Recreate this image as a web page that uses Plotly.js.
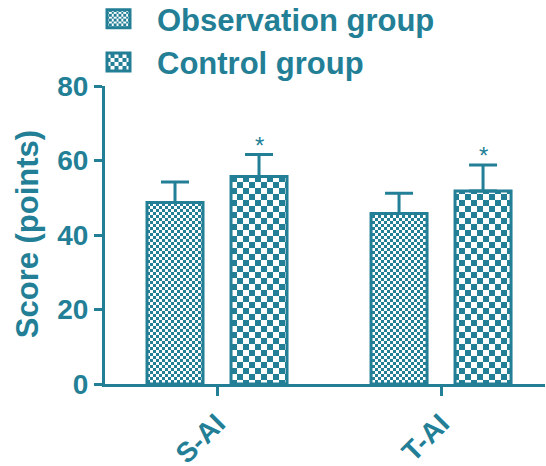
<!DOCTYPE html>
<html>
<head>
<meta charset="utf-8">
<script src="https://cdn.plot.ly/plotly-3.0.1.min.js"></script>
<style>html,body{margin:0;padding:0;background:#fff;}#chart{width:546px;height:466px;}</style>
</head>
<body>
<div id="chart"></div>
<script>
var categories = ['S-AI', 'T-AI'];
var obsMeans = [48.7, 45.8];
var obsErr = [5.5, 5.4];
var ctrlMeans = [55.7, 51.8];
var ctrlErr = [5.9, 7.0];
var significance = ['*', '*'];
var seriesNames = ['Observation group', 'Control group'];
var yTitle = 'Score (points)';

var teal = '#237f96';
var fontFam = '"Liberation Sans", Arial, sans-serif';
var xIdx = categories.map(function (c, i) { return i; });

function barTrace(name, means, errs, offset, patSize, group) {
  return {
    type: 'bar', name: name, x: xIdx, y: means,
    width: 0.25, offset: offset,
    legendgroup: group,
    marker: {
      color: 'white',
      line: {color: teal, width: 3},
      pattern: {shape: '.', fgcolor: teal, bgcolor: 'white', size: patSize, solidity: 0.5, fgopacity: 1}
    },
    error_y: {type: 'data', symmetric: false, array: errs, arrayminus: errs.map(function () { return 0; }),
      color: teal, thickness: 3, width: 14}
  };
}

var traces = [
  barTrace(seriesNames[0], obsMeans, obsErr, -0.3125, 6, 'a'),
  barTrace(seriesNames[1], ctrlMeans, ctrlErr, 0.0625, 12, 'b')
];

var annotations = categories.map(function (c, i) {
  return {x: i + 0.1875, y: ctrlMeans[i] + ctrlErr[i], xref: 'x', yref: 'y', text: significance[i],
    showarrow: false, yanchor: 'bottom', yshift: -6, font: {family: fontFam, size: 24, color: teal}};
});
annotations.push({
  text: yTitle, xref: 'paper', yref: 'paper', x: -0.177, y: 0.503, xanchor: 'center', yanchor: 'middle',
  textangle: -90, showarrow: false, font: {family: fontFam, size: 31, color: teal, weight: 'bold'}
});

var layout = {
  width: 546, height: 466,
  margin: {l: 105, r: 1, t: 86, b: 82, autoexpand: false},
  paper_bgcolor: 'white', plot_bgcolor: 'white',
  font: {family: fontFam, color: teal},
  showlegend: true,
  legend: {xref: 'paper', yref: 'paper', x: -25 / 440, y: 1 + 94 / 298, xanchor: 'left', yanchor: 'top',
    itemwidth: 67,
    font: {family: fontFam, size: 31, color: teal, weight: 'bold'},
    traceorder: 'grouped', tracegroupgap: 0, bgcolor: 'rgba(0,0,0,0)'},
  xaxis: {
    range: [-0.5, 1.464], tickvals: xIdx, ticktext: categories, tickangle: -45,
    showgrid: false, zeroline: false, showline: true, linecolor: teal, linewidth: 3,
    ticks: 'outside', ticklen: 9, tickwidth: 3, tickcolor: teal,
    tickfont: {family: fontFam, size: 28, color: teal, weight: 'bold'}
  },
  yaxis: {
    range: [0, 80], tickvals: [0, 20, 40, 60, 80],
    showgrid: false, zeroline: false, showline: true, linecolor: teal, linewidth: 3,
    ticks: 'outside', ticklen: 8, tickwidth: 3, tickcolor: teal,
    tickfont: {family: fontFam, size: 28, color: teal, weight: 'bold'}
  },
  annotations: annotations
};

// Turn each fill pattern into a checkerboard whose checks are half the pattern cell
function checkerize(gd) {
  var ns = 'http://www.w3.org/2000/svg';
  var pats = gd.querySelectorAll('pattern');
  pats.forEach(function (p) {
    var w = parseFloat(p.getAttribute('width'));
    var h = parseFloat(p.getAttribute('height'));
    if (!w || !h) return;
    while (p.firstChild) p.removeChild(p.firstChild);
    function r(x, y, ww, hh, fill) {
      var el = document.createElementNS(ns, 'rect');
      el.setAttribute('x', x); el.setAttribute('y', y);
      el.setAttribute('width', ww); el.setAttribute('height', hh);
      el.setAttribute('fill', fill);
      el.setAttribute('shape-rendering', 'crispEdges');
      p.appendChild(el);
    }
    r(0, 0, w, h, 'white');
    r(0, 0, w / 2, h / 2, teal);
    r(w / 2, h / 2, w / 2, h / 2, teal);
  });
}

// Larger legend swatches, like the reference's boxed keys
function bigSwatches(gd) {
  gd.querySelectorAll('.legend .legendpoints path').forEach(function (p) {
    p.setAttribute('d', 'M11.5,9H-11.5V-9H11.5Z');
    p.style.strokeWidth = '3px';
  });
}

Plotly.newPlot('chart', traces, layout, {displayModeBar: false, staticPlot: true}).then(function (gd) {
  checkerize(gd);
  bigSwatches(gd);
});
</script>
</body>
</html>
